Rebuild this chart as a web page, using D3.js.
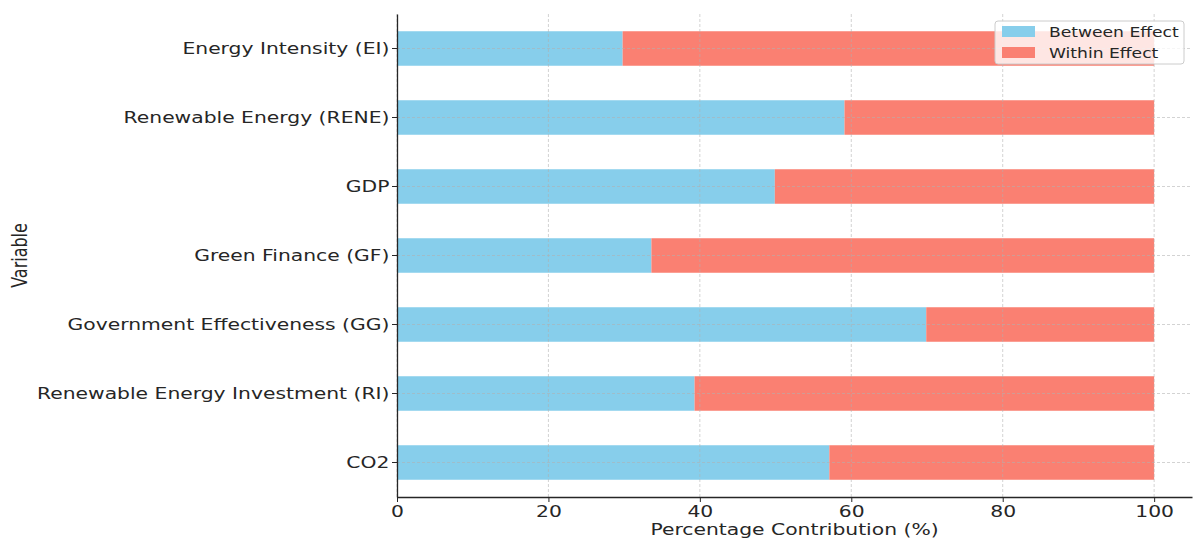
<!DOCTYPE html>
<html>
<head>
<meta charset="utf-8">
<script src="https://cdn.jsdelivr.net/npm/d3@7"></script>
<style>
  body { margin: 0; background: #fff; }
  svg { font-family: "DejaVu Sans", sans-serif; }
</style>
</head>
<body>
<div id="main"></div>
<script>
var categories = ['Energy Intensity (EI)', 'Renewable Energy (RENE)', 'GDP', 'Green Finance (GF)',
    'Government Effectiveness (GG)', 'Renewable Energy Investment (RI)', 'CO2'];
var betweenEffect = [29.8, 59.1, 49.9, 33.6, 69.9, 39.3, 57.1];
var withinEffect = betweenEffect.map(function(v) { return 100 - v; });
var xTicks = [0, 20, 40, 60, 80, 100];
var seriesNames = ['Between Effect', 'Within Effect'];
var seriesColors = ['#87CEEB', '#FA8072'];

var width = 1198, height = 540;
var m = { left: 397, right: 1192, top: 14, bottom: 497 };
var sx = 1.27; // text in the picture is stretched sideways
var font = '"DejaVu Sans", sans-serif';

var svg = d3.select('#main').append('svg')
    .attr('width', width).attr('height', height);

var x = d3.scaleLinear().domain([0, 105]).range([m.left, m.right]);
var y = d3.scaleBand().domain(categories).range([m.top, m.bottom])
    .paddingInner(0.5).paddingOuter(0.25);

var rows = categories.map(function(c, i) {
    return { cat: c, between: betweenEffect[i], within: withinEffect[i] };
});

// bars
svg.append('g').selectAll('rect').data(rows).enter().append('rect')
    .attr('x', x(0)).attr('y', function(d) { return y(d.cat); })
    .attr('width', function(d) { return x(d.between) - x(0); })
    .attr('height', y.bandwidth()).attr('fill', seriesColors[0]);
svg.append('g').selectAll('rect').data(rows).enter().append('rect')
    .attr('x', function(d) { return x(d.between); }).attr('y', function(d) { return y(d.cat); })
    .attr('width', function(d) { return x(d.between + d.within) - x(d.between); })
    .attr('height', y.bandwidth()).attr('fill', seriesColors[1]);

// grid on top of bars
var grid = svg.append('g').attr('stroke', '#b0b0b0').attr('stroke-opacity', 0.7)
    .attr('stroke-dasharray', '3,2').attr('stroke-width', 0.8);
grid.selectAll('line.v').data(xTicks).enter().append('line')
    .attr('x1', function(d) { return x(d); }).attr('x2', function(d) { return x(d); })
    .attr('y1', m.top).attr('y2', m.bottom);
grid.selectAll('line.h').data(categories).enter().append('line')
    .attr('x1', m.left).attr('x2', m.right)
    .attr('y1', function(d) { return y(d) + y.bandwidth() / 2; })
    .attr('y2', function(d) { return y(d) + y.bandwidth() / 2; });

// axes
var xAxis = svg.append('g').attr('transform', 'translate(0,' + m.bottom + ')')
    .call(d3.axisBottom(x).tickValues(xTicks).tickSize(5).tickPadding(4).tickSizeOuter(0))
    .attr('font-family', font);
xAxis.selectAll('text').attr('font-size', 16).attr('fill', '#262626')
    .attr('transform', 'scale(' + sx + ',1)');
var yAxis = svg.append('g').attr('transform', 'translate(' + m.left + ',0)')
    .call(d3.axisLeft(y).tickSize(5).tickPadding(1).tickSizeOuter(0))
    .attr('font-family', font);
yAxis.selectAll('text').attr('font-size', 16).attr('fill', '#262626')
    .attr('transform', 'scale(' + sx + ',1)');
svg.selectAll('.domain').attr('stroke', '#262626').attr('stroke-width', 1.3);
svg.selectAll('.tick line').attr('stroke', '#262626');

svg.append('text')
    .attr('transform', 'translate(' + (m.left + m.right) / 2 + ',535) scale(' + sx + ',1)')
    .attr('text-anchor', 'middle').attr('font-size', 16).attr('fill', '#262626')
    .text('Percentage Contribution (%)');
svg.append('text')
    .attr('transform', 'translate(27,' + (m.top + m.bottom) / 2 + ') scale(' + sx + ',1) rotate(-90)')
    .attr('text-anchor', 'middle').attr('font-size', 16).attr('fill', '#262626')
    .text('Variable');

// legend
var lg = svg.append('g').attr('transform', 'translate(995,21)');
lg.append('rect').attr('width', 189).attr('height', 43).attr('rx', 3)
    .attr('fill', '#fff').attr('fill-opacity', 0.8).attr('stroke', '#ccc');
seriesNames.forEach(function(n, i) {
    lg.append('rect').attr('x', 7).attr('y', 5 + i * 21).attr('width', 33).attr('height', 11)
        .attr('fill', seriesColors[i]);
    lg.append('text').attr('transform', 'translate(54,' + (15.5 + i * 21) + ') scale(' + sx + ',1)')
        .attr('font-size', 13.5).attr('fill', '#262626').text(n);
});
</script>
</body>
</html>
